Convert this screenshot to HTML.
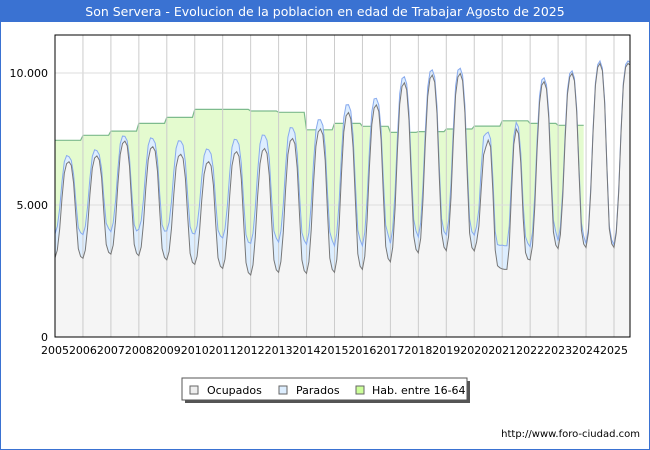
<!DOCTYPE html>
<html><head><meta charset="utf-8"><style>
body{margin:0;background:#fff;font-family:"DejaVu Sans","Liberation Sans",sans-serif}
#wrap{position:relative;width:650px;height:450px;overflow:hidden}
</style></head><body>
<div id="wrap">
<svg id="svg" width="650" height="450" xmlns="http://www.w3.org/2000/svg">
<rect x="0.5" y="0.5" width="649" height="449" fill="#fff" stroke="#3a72d2"/>
<rect x="0" y="0" width="650" height="22" fill="#3a72d2"/>
<text x="325" y="16" text-anchor="middle" fill="#fff" font-size="12.5">Son Servera - Evolucion de la poblacion en edad de Trabajar Agosto de 2025</text>
<g id="grid"></g>
<g id="marks"></g>
<rect x="55" y="35" width="575" height="302" fill="none" stroke="#000"/>
<g id="axes"></g>
<g>
<rect x="185" y="381" width="285" height="22" fill="#555"/>
<rect x="182" y="378" width="285" height="22" fill="#fff" stroke="#555"/>
<g><rect x="190" y="386" width="8" height="8" fill="#eee" stroke="#666"/><text x="207" y="394" font-size="11">Ocupados</text></g>
<g><rect x="279" y="386" width="8" height="8" fill="#ddeeff" stroke="#666"/><text x="296" y="394" font-size="11">Parados</text></g>
<g><rect x="356" y="386" width="8" height="8" fill="#ccff99" stroke="#666"/><text x="372" y="394" font-size="11">Hab. entre 16-64</text></g>
</g>
<text x="640" y="437" text-anchor="end" font-size="10">http://www.foro-ciudad.com</text>
</svg>
</div>
<script>
const years=[2005,2006,2007,2008,2009,2010,2011,2012,2013,2014,2015,2016,2017,2018,2019,2020,2021,2022,2023,2024,2025];
const yTicks=[0,5000,10000];
const yTickLabels=["0","5.000","10.000"];
const habYears=[2005,2006,2007,2008,2009,2010,2011,2012,2013,2014,2015,2016,2017,2018,2019,2020,2021,2022,2023];
const habValues=[7450,7640,7800,8090,8320,8620,8620,8560,8510,7850,8090,7980,7750,7780,7880,7990,8190,8090,8020];
const ocupados=[
3000,3290,4090,5260,6200,6570,6640,6500,5830,4520,3350,3050,
2980,3290,4140,5390,6390,6780,6860,6700,6040,4700,3510,3210,
3140,3480,4420,5790,6910,7330,7420,7250,6470,4900,3510,3170,
3080,3410,4320,5640,6710,7130,7210,7040,6270,4720,3350,3010,
2920,3240,4120,5400,6440,6840,6920,6760,6000,4500,3170,2830,
2750,3060,3920,5160,6170,6560,6640,6480,5750,4300,3000,2680,
2600,2950,3930,5340,6490,6930,7020,6840,5990,4310,2820,2440,
2350,2730,3790,5320,6560,7040,7140,6950,6110,4420,2920,2540,
2450,2860,3970,5590,6910,7420,7520,7320,6400,4560,2920,2510,
2410,2850,4050,5800,7220,7770,7880,7660,6690,4730,2990,2560,
2450,2930,4270,6200,7770,8380,8500,8260,7190,5060,3150,2680,
2560,3060,4430,6420,8040,8670,8790,8540,7480,5350,3440,2970,
2850,3390,4880,7050,8820,9490,9630,9360,8210,5900,3830,3320,
3190,3730,5210,7360,9110,9790,9920,9650,8460,6060,3940,3400,
3270,3810,5280,7430,9170,9850,9980,9710,8500,6080,3930,3390,
3260,3600,4200,5600,6900,7200,7460,7200,5500,3300,2700,2620,
2580,2560,2560,3400,5500,7300,7880,7700,6600,4500,3200,2950,
2920,3460,4950,7110,8860,9540,9670,9400,8280,6000,3980,3480,
3350,3880,5340,7460,9180,9850,9980,9710,8530,6160,4050,3520,
3390,3950,5480,7710,9520,10220,10360,10080,8830,6320,4090,3530,
3390,3950,5480,7710,9520,10220,10360,10300];
const parados=[
900,900,790,620,440,300,190,190,330,550,790,900,
900,900,800,620,450,310,200,200,340,550,800,900,
850,850,750,580,410,280,180,180,310,520,750,850,
1000,1000,900,720,550,410,300,300,440,650,900,1000,
1100,1100,1010,860,710,590,500,500,620,800,1010,1100,
1150,1150,1050,870,700,560,450,450,590,800,1050,1150,
1150,1150,1050,870,700,560,450,450,590,800,1050,1150,
1200,1200,1100,920,750,610,500,500,640,850,1100,1200,
1150,1150,1040,850,660,510,400,400,550,780,1040,1150,
1100,1100,990,800,610,460,350,350,500,730,990,1100,
1000,1000,900,720,550,410,300,300,440,650,900,1000,
900,900,800,640,480,350,250,250,380,580,800,900,
700,700,630,510,400,300,230,230,320,470,630,700,
600,600,540,440,340,260,200,200,280,400,540,600,
600,600,540,440,340,260,200,200,280,400,540,600,
600,600,650,800,700,500,300,300,500,700,800,850,
900,900,900,800,500,300,250,250,350,500,600,600,
500,500,450,360,270,200,150,150,220,330,450,500,
300,300,270,220,170,130,100,100,140,200,270,300,
150,150,140,120,110,100,100,100,100,100,120,150,
100,100,100,100,100,100,100,100];

const X0=55,X1=630,Y0=337,PX_PER_YEAR=27.95;
function xs(t){return X0+(t-2005)*PX_PER_YEAR;}
function ys(v){return Y0-v*(132/5000);}
const NS="http://www.w3.org/2000/svg";
function mk(tag,attrs,parent){const e=document.createElementNS(NS,tag);for(const k in attrs)e.setAttribute(k,attrs[k]);parent.appendChild(e);return e;}
const grid=document.getElementById('grid'),marks=document.getElementById('marks'),axes=document.getElementById('axes');
mk('rect',{x:X0,y:35,width:X1-X0,height:302,fill:'#fff'},grid);
let hp=[];
habYears.forEach((y,i)=>{hp.push([xs(y),ys(habValues[i])]);hp.push([xs(y+11/12),ys(habValues[i])]);});
let hd='M'+hp[0][0]+','+Y0+' '+hp.map(p=>'L'+p[0].toFixed(1)+','+p[1].toFixed(1)).join(' ')+' L'+hp[hp.length-1][0]+','+Y0+'Z';
const habArea=mk('path',{d:hd,fill:'#e4fbcf'},marks);


const habLine=mk('path',{d:'M'+hp.map(p=>p[0].toFixed(1)+','+p[1].toFixed(1)).join(' L'),fill:'none',stroke:'#7dbb8d','stroke-width':1.2},marks);


const tp=ocupados.map((v,i)=>[xs(2005+i/12),ys(v+parados[i])]);
const op=ocupados.map((v,i)=>[xs(2005+i/12),ys(v)]);
function area(pts){return 'M'+pts[0][0].toFixed(1)+','+Y0+' '+pts.map(p=>'L'+p[0].toFixed(1)+','+p[1].toFixed(1)).join(' ')+' L'+pts[pts.length-1][0].toFixed(1)+','+Y0+'Z';}
function line(pts){return 'M'+pts.map(p=>p[0].toFixed(1)+','+p[1].toFixed(1)).join(' L');}
const parArea=mk('path',{d:area(tp),fill:'#ddeeff'},marks);


const ocArea=mk('path',{d:area(op),fill:'#f5f5f5'},marks);


for(let y=2006;y<=2025;y++){const l=mk('line',{x1:xs(y),x2:xs(y),y1:35,y2:Y0,stroke:'#ccc','stroke-width':1},marks);

}
yTicks.forEach((v,i)=>{if(v>0){const l=mk('line',{x1:X0,x2:X1,y1:ys(v),y2:ys(v),stroke:'#ddd'},marks);

}
const t=mk('text',{x:48,y:ys(v)+4,'text-anchor':'end','font-size':11},axes);t.textContent=yTickLabels[i];

});
const parLine=mk('path',{d:line(tp),fill:'none',stroke:'#88aaee','stroke-width':1},marks);


const ocLine=mk('path',{d:line(op),fill:'none',stroke:'#777','stroke-width':1},marks);


years.forEach(y=>{const t=mk('text',{x:xs(y),y:354,'text-anchor':'middle','font-size':11},axes);t.textContent=y;

});
</script>
</body></html>
